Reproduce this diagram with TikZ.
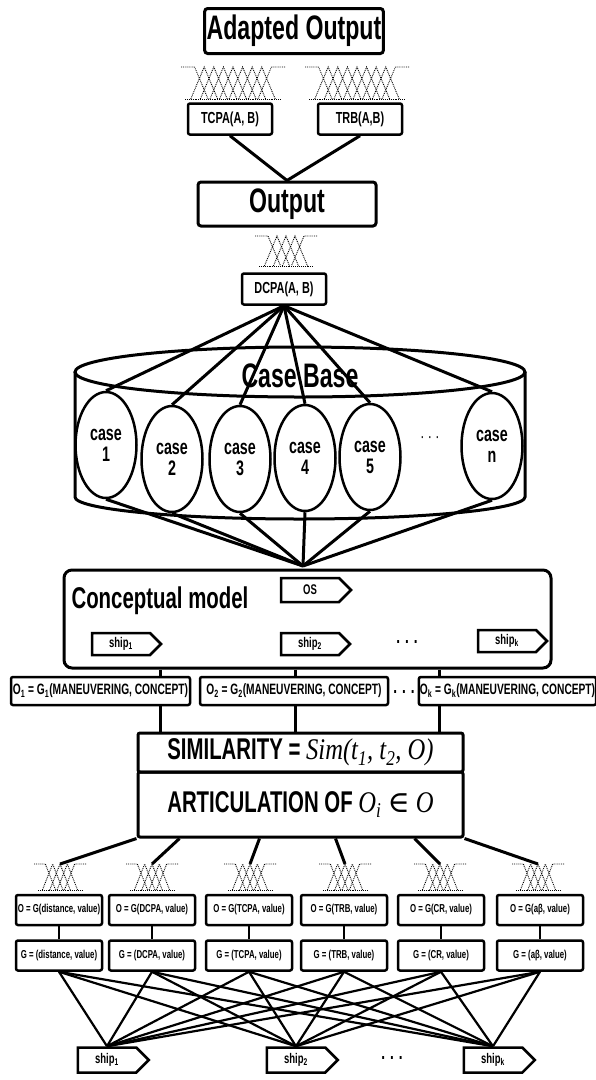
\documentclass[tikz,border=0pt]{standalone}
\usepackage{fontspec}
\setmainfont{Liberation Sans}[FakeStretch=0.68]
\newfontfamily\serifit{Liberation Serif}[FakeStretch=0.82]
\newfontfamily\elemfont{DejaVu Serif}
\usetikzlibrary{positioning,shapes,arrows}
\newcommand{\fsz}[1]{\fontsize{#1}{#1}\selectfont}
\tikzstyle{titlebox} = [rectangle, rounded corners=3pt, draw=black, line width=3pt, inner sep=2pt, text centered, font=\fsz{34}\bfseries]
\tikzstyle{smallbox} = [rectangle, rounded corners=2pt, draw=black, line width=2.5pt, minimum width=84pt, minimum height=31pt, text centered, font=\fsz{16}\bfseries]
\tikzstyle{casenode} = [ellipse, draw=black, line width=2.5pt, inner sep=0pt, minimum width=61pt, minimum height=106pt, align=center, font=\fsz{21}\bfseries]
\tikzstyle{flag} = [signal, signal to=east, draw=black, line width=2.5pt, minimum width=70pt, minimum height=24pt, font=\fsz{14}\bfseries]
\tikzstyle{modelbox} = [rectangle, rounded corners=8pt, draw=black, line width=3pt]
\tikzstyle{obox} = [rectangle, rounded corners=2pt, draw=black, line width=2.5pt, inner sep=1pt, minimum height=28pt, font=\fsz{15}\bfseries]
\tikzstyle{bigbox} = [rectangle, rounded corners=2pt, draw=black, line width=3pt, minimum width=325pt, text centered, font=\fsz{30}\bfseries]
\tikzstyle{gbox} = [rectangle, rounded corners=2pt, draw=black, line width=2.5pt, inner sep=1pt, minimum width=86pt, minimum height=30pt, font=\fsz{11.5}\bfseries]
\tikzstyle{link} = [line width=3pt]
\tikzstyle{rim} = [line width=3pt]
\tikzstyle{fanlink} = [line width=2.2pt]
\tikzstyle{fuzzyline} = [densely dotted, line width=0.9pt]
% fuzzy sets: left x, base y, width, height, number of peaks
\newcommand{\fuzzyset}[5]{%
  \pgfmathsetmacro{\fs}{#3/(#5+1)}
  \pgfmathtruncatemacro{\fm}{#5-1}
  \draw [fuzzyline] (#1,#2) -- ++(#3,0);
  \draw [fuzzyline] (#1-4,#2-#4) -- (#1+\fs,#2-#4) -- (#1+2.4*\fs,#2);
  \draw [fuzzyline] (#1+#3+4,#2-#4) -- (#1+#3-\fs,#2-#4) -- (#1+#3-2.4*\fs,#2);
  \foreach \k in {2,...,\fm}
    \draw [fuzzyline] (#1+\k*\fs-1.4*\fs,#2) -- (#1+\k*\fs,#2-#4) -- (#1+\k*\fs+1.4*\fs,#2);
}

\begin{document}
\begin{tikzpicture}[x=1pt,y=-1pt]
\useasboundingbox (0,0) rectangle (596,1080);

% output part
\node (adapted) [titlebox, minimum width=178pt, minimum height=45pt] at (294,31) {Adapted Output};
\fuzzyset{185}{99}{96}{32}{9}
\fuzzyset{309}{99}{96}{32}{9}
\node (tcpa) [smallbox] at (230,119) {TCPA(A, B)};
\node (trb) [smallbox] at (360,119) {TRB(A,B)};
\node (output) [titlebox, minimum width=178pt, minimum height=44pt] at (287,204) {Output};
\fuzzyset{259}{266}{54}{30}{5}
\node (dcpa) [smallbox] at (284,289) {DCPA(A, B)};

\draw [link] (tcpa.south) -- (output.north);
\draw [link] (trb.south) -- (output.north);

% case base
\draw [rim] (300,372) ellipse [x radius=225, y radius=25];
\draw [rim] (75,372) -- (75,497) arc [start angle=180, end angle=0, x radius=225, y radius=22] -- (525,372);
\node (casebase) [font=\fsz{34}\bfseries] at (300,376) {Case Base};
\node (case1) [casenode] at (106,445) {case\\1};
\node (case2) [casenode] at (172,459) {case\\2};
\node (case3) [casenode] at (240,459) {case\\3};
\node (case4) [casenode] at (305,458) {case\\4};
\node (case5) [casenode] at (370,457) {case\\5};
\node (casedots) [font=\fsz{18}] at (430,440) {· · ·};
\node (casen) [casenode] at (492,446) {case\\n};
\coordinate (hub) at (303,566);

\draw [link] (dcpa.south) -- (case1.north);
\draw [link] (dcpa.south) -- (case2.north);
\draw [link] (dcpa.south) -- (case3.north);
\draw [link] (dcpa.south) -- (case4.north);
\draw [link] (dcpa.south) -- (case5.north);
\draw [link] (dcpa.south) -- (casen.north);
\draw [link] (case1.south) -- (hub);
\draw [link] (case2.south) -- (hub);
\draw [link] (case3.south) -- (hub);
\draw [link] (case4.south) -- (hub);
\draw [link] (case5.south) -- (hub);
\draw [link] (casen.south) -- (hub);

% conceptual model
\node (cm) [modelbox, minimum width=487pt, minimum height=98pt] at (307.5,619) {};
\node (cmtext) [anchor=west, font=\fsz{30}\bfseries] at (68,601) {Conceptual model};
\node (os) [flag] at (310,590) {OS};
\node (ship1) [flag, minimum width=69pt, minimum height=22pt] at (121,644) {ship\textsubscript{1}};
\node (ship2) [flag, minimum width=69pt, minimum height=22pt] at (310,644) {ship\textsubscript{2}};
\node (shipdots) [font=\fsz{20}\bfseries] at (407,642) {. . .};
\node (shipk) [flag, minimum width=69pt, minimum height=22pt] at (507,641) {ship\textsubscript{k}};

\node (o1) [obox, minimum width=179pt] at (100.5,691) {O\textsubscript{1} = G\textsubscript{1}(MANEUVERING, CONCEPT)};
\node (o2) [obox, minimum width=188pt] at (294,691) {O\textsubscript{2} = G\textsubscript{2}(MANEUVERING, CONCEPT)};
\node (odots) [font=\fsz{20}\bfseries] at (404,692) {. . .};
\node (ok) [obox, minimum width=175pt] at (507.5,691) {O\textsubscript{k} = G\textsubscript{k}(MANEUVERING, CONCEPT)};

\node (sim) [bigbox, minimum height=39pt] at (300.5,752.5) {SIMILARITY = {\serifit\itshape\mdseries Sim(t\textsubscript{1}, t\textsubscript{2}, O)}};
\node (art) [bigbox, minimum height=65pt, below=-3pt of sim] {ARTICULATION OF {\serifit\itshape\mdseries O\textsubscript{i} {\elemfont\upshape ∈} O}};

\coordinate (col1) at (160,0);
\coordinate (col2) at (295,0);
\coordinate (col3) at (439,0);
\draw [link] (cm.south -| col1) -- (o1.north -| col1);
\draw [link] (cm.south -| col2) -- (o2.north -| col2);
\draw [link] (cm.south -| col3) -- (ok.north -| col3);
\draw [link] (o1.south -| col1) -- (sim.north -| col1);
\draw [link] (o2.south -| col2) -- (sim.north -| col2);
\draw [link] (ok.south -| col3) -- (sim.north -| col3);

% fuzzy terms
\fuzzyset{38}{890}{44}{26}{5}
\fuzzyset{130}{890}{44}{26}{5}
\fuzzyset{228}{890}{44}{26}{5}
\fuzzyset{323}{890}{44}{26}{5}
\fuzzyset{418}{890}{44}{26}{5}
\fuzzyset{516}{890}{44}{26}{5}
\coordinate (f1) at (60,864);
\coordinate (f2) at (152,864);
\coordinate (f3) at (250,864);
\coordinate (f4) at (345,864);
\coordinate (f5) at (440,864);
\coordinate (f6) at (538,864);

\draw [link] (art.south west) -- (f1);
\draw [link] ([xshift=-121pt]art.south) -- (f2);
\draw [link] ([xshift=-41pt]art.south) -- (f3);
\draw [link] ([xshift=35pt]art.south) -- (f4);
\draw [link] ([xshift=114pt]art.south) -- (f5);
\draw [link] (art.south east) -- (f6);

\node (g1) [gbox] at (59,910) {O = G(distance, value)};
\node (g2) [gbox] at (152,910) {O = G(DCPA, value)};
\node (g3) [gbox] at (249,910) {O = G(TCPA, value)};
\node (g4) [gbox] at (344,910) {O = G(TRB, value)};
\node (g5) [gbox] at (441,910) {O = G(CR, value)};
\node (g6) [gbox] at (540,910) {O = G(aβ, value)};
\node (h1) [gbox, below=13pt of g1] {G = (distance, value)};
\node (h2) [gbox, below=13pt of g2] {G = (DCPA, value)};
\node (h3) [gbox, below=13pt of g3] {G = (TCPA, value)};
\node (h4) [gbox, below=13pt of g4] {G = (TRB, value)};
\node (h5) [gbox, below=13pt of g5] {G = (CR, value)};
\node (h6) [gbox, below=13pt of g6] {G = (aβ, value)};

\draw [fanlink] (g1) -- (h1);
\draw [fanlink] (g2) -- (h2);
\draw [fanlink] (g3) -- (h3);
\draw [fanlink] (g4) -- (h4);
\draw [fanlink] (g5) -- (h5);
\draw [fanlink] (g6) -- (h6);

\node (s1) [flag, minimum width=71pt, minimum height=25pt] at (107,1060) {ship\textsubscript{1}};
\node (s2) [flag, minimum width=71pt, minimum height=25pt] at (296,1060) {ship\textsubscript{2}};
\node (sdots) [font=\fsz{20}\bfseries] at (392,1058) {. . .};
\node (s3) [flag, minimum width=71pt, minimum height=25pt] at (493,1060) {ship\textsubscript{k}};

\foreach \g in {h1,h2,h3,h4,h5,h6}
  \foreach \s in {s1,s2,s3}
    \draw [fanlink] (\g.south) -- (\s.north);

\end{tikzpicture}
\end{document}
